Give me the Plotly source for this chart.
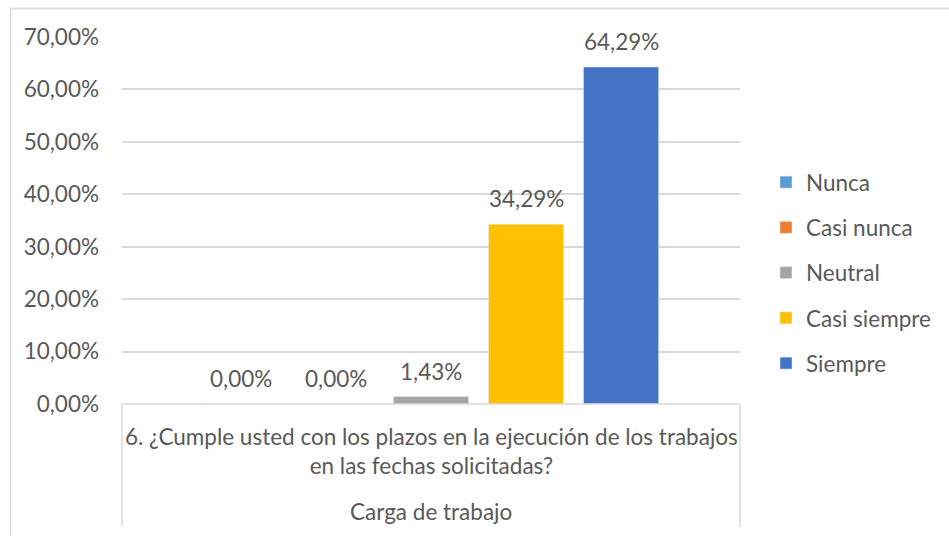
import plotly.graph_objects as go

# Survey answer shares (%) for a single question
question = "6. ¿Cumple usted con los plazos en la ejecución de los trabajos<br>en las fechas solicitadas?"
group_label = "Carga de trabajo"
series_names = ["Nunca", "Casi nunca", "Neutral", "Casi siempre", "Siempre"]
series_values = [0.00, 0.00, 1.43, 34.29, 64.29]
series_colors = ["#5B9BD5", "#ED7D31", "#A5A5A5", "#FFC000", "#4472C4"]
y_ticks = [0, 10, 20, 30, 40, 50, 60, 70]
y_tick_labels = [f"{v:.2f}".replace(".", ",") + "%" for v in y_ticks]

W, H = 949, 536
L, R, T, B = 122, 209, 37, 132
plot_w = W - L - R
plot_h = H - T - B
BARGAP = 0.231
BARGROUPGAP = 0.21

TEXT = "#595959"
GRID = "#D9D9D9"
FONT = "Lato, 'Open Sans', sans-serif"
FS = 22.5

fig = go.Figure()
for i, (name, val, col) in enumerate(zip(series_names, series_values, series_colors)):
    fig.add_trace(go.Bar(
        name=name, x=["q6"], y=[val], marker_color=col,
        legendgroup=name, hoverinfo="skip",
    ))

# value labels above each bar
slot = plot_w * (1 - BARGAP) / len(series_names)
n = len(series_names)
for i, val in enumerate(series_values):
    fig.add_annotation(
        x="q6", y=val, xref="x", yref="y",
        text=f"{val:.2f}".replace(".", ",") + "%",
        showarrow=False, yanchor="bottom", xanchor="center",
        xshift=(i - (n - 1) / 2) * slot, yshift=10,
        font=dict(family=FONT, size=FS, color=TEXT),
    )

def px_x(p):
    return (p - L) / plot_w

def px_y(p):
    return (H - B - p) / plot_h

# category axis labels
fig.add_annotation(
    x=0.5, y=px_y(451), xref="paper", yref="paper", text=question,
    showarrow=False, xanchor="center", yanchor="middle", align="center",
    font=dict(family=FONT, size=FS, color=TEXT),
)
fig.add_annotation(
    x=0.5, y=px_y(511), xref="paper", yref="paper", text=group_label,
    showarrow=False, xanchor="center", yanchor="middle",
    font=dict(family=FONT, size=FS, color=TEXT),
)

line = dict(color=GRID, width=1.5)
# category box
fig.add_shape(type="line", xref="paper", yref="paper", x0=0, x1=1, y0=0, y1=0, line=line)
fig.add_shape(type="line", xref="paper", yref="paper", x0=0, x1=0, y0=0, y1=px_y(526), line=line)
fig.add_shape(type="line", xref="paper", yref="paper", x0=1, x1=1, y0=0, y1=px_y(527), line=line)
# chart area border
fig.add_shape(type="line", xref="paper", yref="paper", x0=px_x(10), x1=px_x(960), y0=px_y(8.5), y1=px_y(8.5), line=line)
fig.add_shape(type="line", xref="paper", yref="paper", x0=px_x(10.5), x1=px_x(10.5), y0=px_y(8), y1=px_y(560), line=line)

fig.update_layout(
    width=W, height=H,
    margin=dict(l=L, r=R, t=T, b=B),
    paper_bgcolor="white", plot_bgcolor="white",
    barmode="group", bargap=BARGAP, bargroupgap=BARGROUPGAP,
    font=dict(family=FONT, size=FS, color=TEXT),
    showlegend=True,
    legend=dict(
        x=px_x(766), y=px_y(273), xanchor="left", yanchor="middle",
        xref="paper", yref="paper",
        font=dict(family=FONT, size=FS, color=TEXT),
        tracegroupgap=13, bgcolor="rgba(0,0,0,0)",
    ),
    xaxis=dict(showticklabels=False, showgrid=False, zeroline=False, showline=False, ticks="", fixedrange=True),
    yaxis=dict(
        range=[0, 70], tickmode="array", tickvals=y_ticks, ticktext=y_tick_labels,
        showgrid=True, gridcolor=GRID, gridwidth=1.5, zeroline=False, showline=False,
        ticks="", ticklabelstandoff=22, fixedrange=True,
        tickfont=dict(family=FONT, size=FS, color=TEXT),
    ),
)

fig.write_html("out.html")
